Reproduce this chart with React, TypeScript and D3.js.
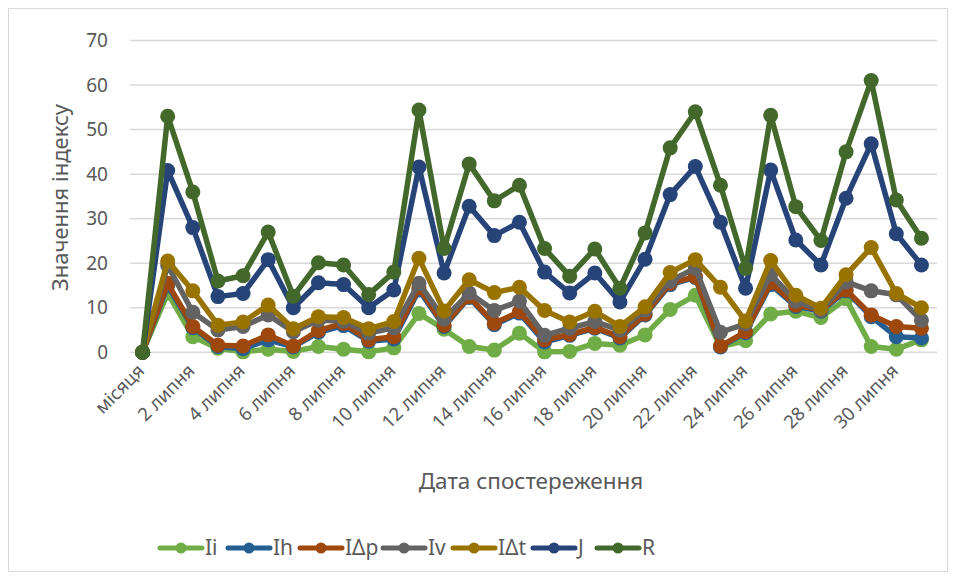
import React from "react";
import * as d3 from "d3";

const categories: string[] = [
  "місяця",
  ...Array.from({ length: 31 }, (_, i) => `${i + 1} липня`),
];

const seriesNames = ["Ii", "Ih", "IΔp", "Iv", "IΔt", "J", "R"];
const seriesColors = ["#70AD47", "#255E91", "#9E480E", "#636363", "#997300", "#264478", "#43682B"];

const Ii = [0, 13.3, 3.5, 0.9, 0.1, 0.7, 0.2, 1.3, 0.7, 0.1, 1.0, 8.7, 5.2, 1.3, 0.5, 4.3, 0.1, 0.2, 2.0, 1.6, 3.9, 9.6, 12.8, 1.3, 2.6, 8.6, 9.2, 7.8, 12.0, 1.3, 0.7, 2.8];
const Ih = [0, 15.0, 5.5, 1.3, 0.8, 2.8, 1.2, 4.5, 6.0, 2.5, 3.0, 14.0, 5.8, 12.3, 6.2, 8.8, 2.3, 3.8, 5.4, 3.2, 8.4, 15.2, 16.8, 1.2, 4.4, 15.2, 10.3, 9.2, 13.8, 8.0, 3.5, 3.2];
const Ip = [0, 15.5, 5.8, 1.6, 1.4, 3.9, 1.4, 4.9, 6.5, 2.8, 3.5, 14.5, 6.1, 12.5, 6.5, 9.1, 2.8, 4.0, 5.6, 3.5, 8.6, 15.5, 17.0, 1.4, 4.6, 15.6, 10.6, 9.5, 14.0, 8.4, 5.8, 5.4];
const Iv = [0, 19.5, 9.0, 5.0, 5.8, 8.4, 4.6, 7.2, 7.0, 4.3, 5.5, 15.5, 7.5, 13.3, 9.4, 11.5, 3.8, 5.4, 6.9, 5.0, 9.5, 16.0, 18.9, 4.5, 6.4, 17.5, 11.5, 9.4, 15.8, 13.8, 12.9, 7.2];
const It = [0, 20.5, 13.8, 6.1, 6.8, 10.6, 5.3, 8.0, 7.8, 5.3, 6.9, 21.1, 9.3, 16.3, 13.4, 14.6, 9.4, 6.8, 9.2, 5.8, 10.2, 17.9, 20.8, 14.6, 7.0, 20.6, 12.8, 9.9, 17.4, 23.5, 13.2, 10.0];
const J = [0, 40.8, 28.0, 12.5, 13.2, 20.8, 10.0, 15.6, 15.2, 10.0, 14.0, 41.6, 17.8, 32.8, 26.2, 29.2, 18.0, 13.3, 17.8, 11.3, 20.9, 35.4, 41.7, 29.2, 14.4, 40.9, 25.2, 19.6, 34.6, 46.8, 26.6, 19.6];
const R = [0, 53.0, 36.0, 16.0, 17.2, 27.0, 12.6, 20.1, 19.6, 13.0, 18.0, 54.4, 23.3, 42.3, 34.0, 37.5, 23.3, 17.1, 23.2, 14.4, 26.8, 45.9, 54.0, 37.5, 18.8, 53.2, 32.7, 25.1, 45.0, 61.0, 34.2, 25.6];

const seriesValues = [Ii, Ih, Ip, Iv, It, J, R];
const yTicks = [0, 10, 20, 30, 40, 50, 60, 70];

const W = 940;
const H = 564;
const FONT = "'Noto Sans', 'Open Sans', sans-serif";
const TXT = "#595959";

export default function App() {
  const left = 122; // svg coords (svg offset by the 8px body margin)
  const right = 926;
  const x = d3.scalePoint<string>().domain(categories).range([left, right]).padding(0.5);
  const y = d3.scaleLinear().domain([0, 70]).range([344.3, 32.5]);
  const line = d3
    .line<number>()
    .x((_, i) => x(categories[i]) as number)
    .y((d) => y(d));

  const legendX = [152, 220, 292, 375, 445, 525, 589];

  return (
    <svg width={W} height={H} style={{ display: "block" }} fontFamily={FONT}>
      <rect x={0.5} y={0.5} width={W - 1} height={H - 1} fill="#fff" stroke="#d9d9d9" strokeWidth={1} />
      {yTicks.map((t) => (
        <g key={t}>
          <line x1={left} x2={right + 3} y1={y(t)} y2={y(t)} stroke="#d9d9d9" strokeWidth={1.5} />
          <text x={100} y={y(t)} dy="0.35em" textAnchor="end" fontSize={19} fill={TXT}>
            {t}
          </text>
        </g>
      ))}
      {categories.map((c, i) =>
        i % 2 === 0 ? (
          <text
            key={c}
            transform={`translate(${(x(c) as number) + 3},${364}) rotate(-45)`}
            textAnchor="end"
            fontSize={18.5}
            fill={TXT}
          >
            {c}
          </text>
        ) : null
      )}
      <text
        transform={`translate(${60},${189.5}) rotate(-90)`}
        textAnchor="middle"
        fontSize={22}
        fill={TXT}
      >
        Значення індексу
      </text>
      <text x={523} y={481} textAnchor="middle" fontSize={22.5} fill={TXT}>
        Дата спостереження
      </text>
      {seriesValues.map((vals, si) => (
        <g key={seriesNames[si]}>
          <path d={line(vals) || ""} fill="none" stroke={seriesColors[si]} strokeWidth={5.5} strokeLinejoin="round" />
          {vals.map((v, i) => (
            <circle key={i} cx={x(categories[i]) as number} cy={y(v)} r={7.5} fill={seriesColors[si]} />
          ))}
        </g>
      ))}
      {seriesNames.map((n, si) => (
        <g key={n} transform={`translate(${legendX[si]},${540})`}>
          <line x1={0} x2={42} y1={0} y2={0} stroke={seriesColors[si]} strokeWidth={5} strokeLinecap="round" />
          <circle cx={21} cy={0} r={5.5} fill={seriesColors[si]} />
          <text x={45} y={0} dy="0.35em" fontSize={21} fill={TXT}>
            {n}
          </text>
        </g>
      ))}
    </svg>
  );
}
